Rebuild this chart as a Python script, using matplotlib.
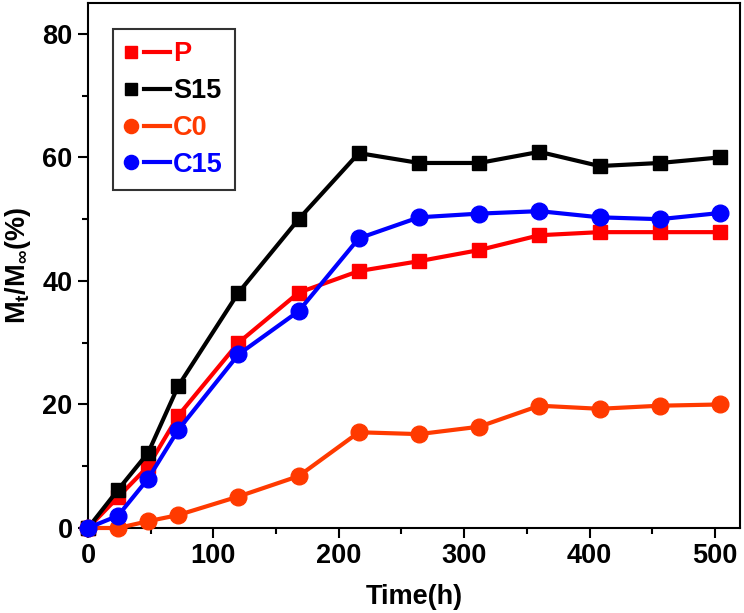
import matplotlib
matplotlib.use("Agg")
import matplotlib.pyplot as plt
from matplotlib.lines import Line2D
from matplotlib.legend_handler import HandlerBase

plt.rcParams['font.family'] = ['Liberation Sans', 'DejaVu Sans']
plt.rcParams['font.weight'] = 'bold'
plt.rcParams['mathtext.fontset'] = 'custom'
plt.rcParams['mathtext.rm'] = 'Liberation Sans:bold'
plt.rcParams['mathtext.bf'] = 'Liberation Sans:bold'
plt.rcParams['mathtext.it'] = 'Liberation Sans:bold'
plt.rcParams['mathtext.default'] = 'bf'

time_h = [0, 24, 48, 72, 120, 168, 216, 264, 312, 360, 408, 456, 504]
P = [0, 5, 10, 18.2, 30, 38.1, 41.6, 43.2, 45, 47.4, 47.9, 47.9, 47.9]
S15 = [0, 6.2, 12.2, 23, 38.1, 50, 60.7, 59.1, 59.1, 60.9, 58.6, 59.1, 60]
C0 = [0, 0, 1.1, 2.1, 5.1, 8.4, 15.5, 15.2, 16.4, 19.8, 19.3, 19.8, 20]
C15 = [0, 2, 8, 15.9, 28.1, 35.1, 46.9, 50.3, 50.9, 51.3, 50.3, 50, 51]

series_names = ['P', 'S15', 'C0', 'C15']
series_vals = [P, S15, C0, C15]
colors = ['#FF0000', '#000000', '#FF3A00', '#0000FF']
markers = ['s', 's', 'o', 'o']
msizes = [10.5, 10.5, 12, 12]

FS = 19.5

fig = plt.figure(figsize=(7.44, 6.13), dpi=100)
ax = fig.add_axes([88/744, 1-528/613, (740-88)/744, (528-3)/613])

for name, vals, c, m, ms in zip(series_names, series_vals, colors, markers, msizes):
    ax.plot(time_h, vals, color=c, marker=m, markersize=ms, linewidth=3,
            label=name, clip_on=False, zorder=3)

ax.set_xlim(0, 520)
ax.set_ylim(0, 85)
ax.set_xticks([0, 100, 200, 300, 400, 500])
ax.set_xticks([50, 150, 250, 350, 450], minor=True)
ax.set_yticks([0, 20, 40, 60, 80])
ax.set_yticks([10, 30, 50, 70], minor=True)
ax.tick_params(which='major', direction='out', length=7, width=1.5, labelsize=FS, pad=4)
ax.tick_params(which='minor', direction='out', length=4, width=1.5)
for lab in ax.get_xticklabels() + ax.get_yticklabels():
    lab.set_fontweight('bold')
for sp in ax.spines.values():
    sp.set_linewidth(1.5)

ax.set_xlabel('Time(h)', fontsize=FS, fontweight='bold', va='center')
ax.xaxis.set_label_coords(0.5, -0.132)
ax.set_ylabel(r'M$_{t}$/M$_{\infty}$(%)', fontsize=FS, fontweight='bold', va='center')
ax.yaxis.set_label_coords(-0.107, 0.5)


class OriginHandler(HandlerBase):
    def create_artists(self, legend, orig_handle, xdescent, ydescent,
                       width, height, fontsize, trans):
        c = orig_handle.get_color()
        y = height / 2 - ydescent
        ln = Line2D([-xdescent + 0.42 * width, -xdescent + width], [y, y],
                    color=c, linewidth=3, transform=trans)
        mk = Line2D([-xdescent + 0.14 * width], [y], marker=orig_handle.get_marker(),
                    markersize=orig_handle.get_markersize() * 0.85, color=c,
                    linestyle='None', transform=trans)
        return [ln, mk]


handles, labels = ax.get_legend_handles_labels()
leg = ax.legend(handles, labels, loc='upper left', bbox_to_anchor=(0.038, 0.95),
                fontsize=FS, frameon=True, fancybox=False, edgecolor='black',
                handlelength=1.65, handletextpad=0.12, labelspacing=0.4,
                borderpad=0.45, borderaxespad=0,
                handler_map={Line2D: OriginHandler()})
leg.get_frame().set_linewidth(1.5)
for t, c in zip(leg.get_texts(), colors):
    t.set_color(c)
    t.set_fontweight('bold')

fig.savefig('out.png', dpi=100)
